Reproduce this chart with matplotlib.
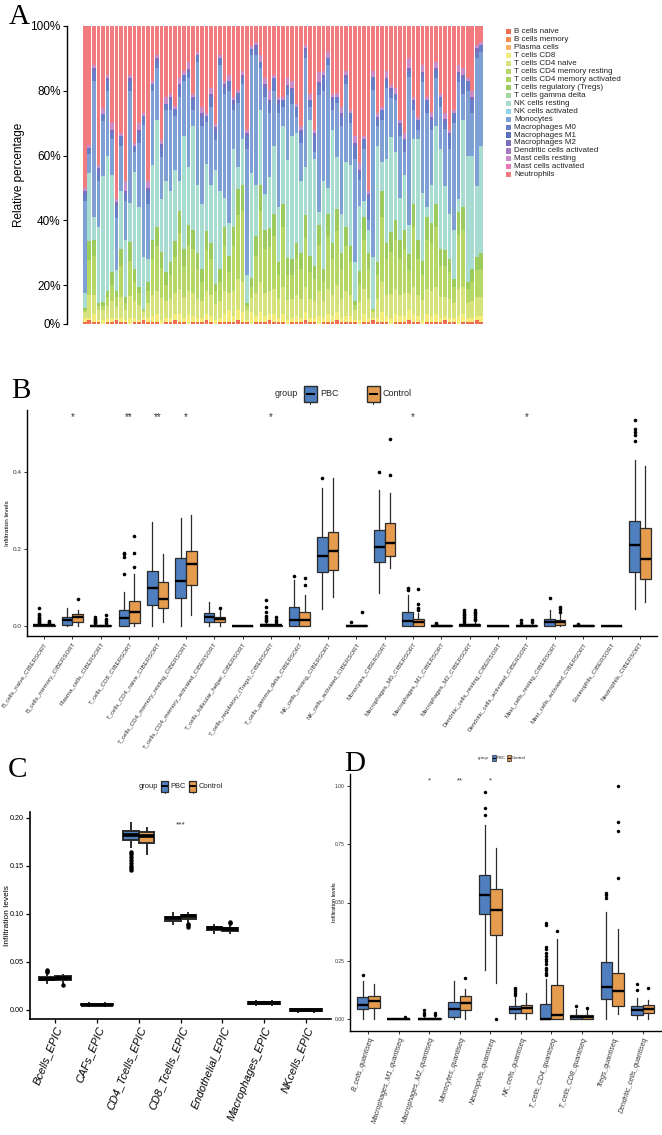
import numpy as np
import matplotlib
matplotlib.use("Agg")
from matplotlib import pyplot as plt
from matplotlib import font_manager
from matplotlib.patches import Rectangle

W, H = 662, 1135


def font_ok(name):
    try:
        font_manager.findfont(font_manager.FontProperties(family=name), fallback_to_default=False)
        return True
    except ValueError:
        return False


SANS = "Liberation Sans"
NARROW = "Liberation Sans Narrow" if font_ok("Liberation Sans Narrow") else SANS
SERIF = "Liberation Serif"
plt.rcParams["font.family"] = [SANS, "DejaVu Sans"]

# ---------------- panel A: CIBERSORT fractions per sample (percent) ----------------
cell_types = ["B cells naive", "B cells memory", "Plasma cells", "T cells CD8", "T cells CD4 naive",
              "T cells CD4 memory resting", "T cells CD4 memory activated", "T cells regulatory (Tregs)",
              "T cells gamma delta", "NK cells resting", "NK cells activated", "Monocytes",
              "Macrophages M0", "Macrophages M1", "Macrophages M2", "Dendritic cells activated",
              "Mast cells resting", "Mast cells activated", "Neutrophils"]
cell_colors = ["#EF6E50", "#F48C52", "#F9B466", "#F4EC78", "#D6E27C", "#B5D766", "#AAD25F", "#9CCC5E",
               "#A2D7A0", "#A8DCD1", "#8ED2EC", "#7EA0D4", "#687EC6", "#5C6EBE", "#7A70BE", "#A67EBF",
               "#C98CC8", "#E778B4", "#F27B80"]

b_naive = [1, 2, 1, 1, 0, 1, 1, 2, 1, 1, 0, 1, 1, 2, 1, 1, 1, 0, 1, 1, 2, 1, 1, 0, 1, 1, 1, 2, 1, 0,
           1, 1, 1, 1, 2, 1, 1, 0, 1, 1, 1, 2, 1, 1, 1, 0, 1, 1, 1, 2, 1, 1, 0, 1, 1, 1, 2, 1, 1, 1,
           1, 0, 1, 1, 2, 1, 1, 1, 0, 1, 1, 1, 2, 1, 1, 0, 1, 1, 1, 1, 2, 1, 1, 0, 1, 1, 1, 2, 1]
t_cd8 = [2, 1, 4, 1, 2, 2, 2, 1, 2, 1, 3, 2, 1, 1, 2, 3, 4, 2, 2, 2, 3, 4, 2, 5, 3, 2, 2, 3, 3, 2,
         2, 4, 6, 3, 5, 5, 1, 6, 3, 5, 3, 3, 4, 2, 4, 2, 2, 3, 2, 4, 2, 2, 4, 2, 4, 3, 4, 2, 3, 3,
         1, 2, 4, 2, 1, 2, 5, 3, 3, 4, 3, 3, 5, 4, 3, 2, 4, 3, 4, 2, 2, 2, 2, 4, 4, 2, 2, 2, 3]
t_cd4_naive = [3, 12, 10, 5, 5, 6, 9, 6, 11, 5, 11, 9, 8, 3, 8, 11, 12, 11, 9, 10, 11, 13, 11, 12, 12, 10, 9, 12, 11, 8,
               9, 12, 9, 13, 15, 15, 5, 7, 12, 15, 12, 12, 13, 10, 14, 10, 10, 11, 10, 13, 10, 9, 13, 9, 13, 11, 14, 10, 13, 11,
               5, 9, 13, 10, 3, 10, 15, 11, 12, 13, 11, 12, 9, 14, 11, 10, 13, 13, 14, 11, 10, 10, 8, 14, 14, 8, 9, 10, 10]
t_cd4_mem_rest = [1, 13, 14, 2, 2, 5, 8, 5, 12, 4, 13, 9, 6, 1, 6, 13, 15, 12, 8, 10, 13, 18, 12, 15, 15, 12, 9, 14, 13, 7,
                  9, 15, 8, 15, 20, 22, 2, 6, 13, 22, 15, 15, 17, 10, 19, 11, 10, 13, 12, 16, 11, 10, 15, 9, 17, 13, 17, 12, 15, 12,
                  3, 9, 16, 12, 1, 10, 20, 13, 15, 16, 13, 15, 9, 19, 13, 11, 16, 16, 19, 12, 12, 11, 8, 17, 18, 7, 9, 11, 11]
tregs = [1, 6, 5, 2, 2, 3, 4, 3, 5, 3, 6, 4, 3, 1, 4, 6, 6, 5, 4, 4, 5, 7, 5, 6, 6, 5, 4, 6, 5, 3,
         4, 6, 5, 6, 8, 8, 2, 3, 6, 8, 6, 6, 7, 4, 7, 5, 5, 5, 5, 7, 5, 4, 6, 4, 7, 5, 7, 5, 6, 5,
         2, 4, 7, 5, 1, 4, 8, 5, 6, 6, 6, 6, 5, 7, 6, 4, 7, 6, 7, 5, 5, 4, 3, 7, 7, 3, 4, 4, 5]
nk_rest = [8, 21, 7, 27, 42, 43, 30, 8, 18, 20, 12, 30, 25, 21, 7, 23, 33, 16, 28, 22, 22, 9, 35, 18, 32, 21, 20, 21, 18, 35,
           24, 9, 10, 24, 7, 14, 12, 32, 16, 23, 11, 16, 21, 17, 24, 30, 38, 34, 22, 15, 42, 33, 4, 27, 8, 35, 16, 12, 20, 25,
           15, 20, 5, 7, 21, 36, 9, 26, 29, 21, 13, 17, 9, 20, 31, 21, 3, 12, 24, 31, 20, 14, 15, 4, 27, 39, 35, 22, 33]
monocytes = [30, 6, 42, 14, 17, 20, 11, 16, 14, 12, 34, 6, 20, 41, 17, 23, 16, 13, 22, 25, 17, 26, 17, 27, 5, 38, 24, 13, 24, 9,
             39, 32, 41, 12, 20, 17, 39, 36, 40, 13, 30, 20, 17, 29, 6, 20, 10, 5, 12, 34, 4, 2, 36, 28, 38, 6, 17, 27, 24, 13,
             32, 8, 16, 3, 52, 6, 13, 22, 12, 16, 19, 7, 46, 9, 3, 34, 29, 17, 15, 13, 18, 20, 33, 36, 8, 20, 13, 40, 29]
macro_m0 = [2, 2, 3, 3, 2, 3, 2, 4, 3, 2, 3, 2, 3, 3, 4, 2, 2, 3, 2, 3, 2, 3, 2, 2, 3, 2, 3, 2, 3, 3,
            2, 2, 3, 2, 3, 2, 4, 2, 2, 2, 3, 3, 4, 3, 2, 2, 4, 3, 3, 2, 2, 5, 3, 4, 2, 3, 2, 3, 2, 3,
            4, 2, 3, 7, 4, 2, 3, 2, 2, 2, 3, 4, 2, 2, 3, 2, 4, 3, 2, 3, 2, 4, 3, 2, 5, 3, 4, 2, 2]
macro_m2 = [1, 0, 1, 1, 0, 1, 1, 1, 0, 1, 1, 0, 1, 0, 1, 0, 1, 1, 0, 1, 0, 1, 0, 1, 1, 0, 1, 0, 1, 1,
            0, 1, 0, 1, 0, 1, 1, 0, 1, 0, 1, 1, 0, 1, 0, 1, 1, 0, 1, 1, 0, 1, 1, 1, 0, 1, 0, 1, 1, 0,
            1, 1, 0, 1, 0, 1, 0, 1, 1, 0, 1, 0, 1, 1, 0, 1, 0, 1, 1, 0, 1, 1, 0, 1, 1, 0, 1, 1, 0]
mast_rest = [1, 1, 1, 1, 2, 1, 2, 1, 1, 3, 1, 1, 2, 1, 2, 1, 1, 1, 2, 1, 1, 2, 1, 2, 1, 1, 2, 1, 2, 1,
             1, 1, 2, 1, 1, 1, 1, 1, 1, 2, 2, 3, 1, 1, 1, 2, 2, 1, 1, 1, 2, 1, 3, 1, 2, 1, 1, 2, 1, 1,
             2, 2, 1, 1, 2, 1, 1, 2, 1, 2, 1, 2, 3, 1, 1, 2, 1, 1, 2, 1, 2, 1, 1, 2, 2, 1, 2, 1, 1]
neutrophils = [50, 37, 12, 43, 25, 15, 30, 54, 33, 48, 15, 36, 30, 27, 48, 17, 9, 35, 22, 21, 25, 16, 14, 11, 21, 8, 25, 27, 19, 30,
               9, 17, 15, 22, 20, 14, 32, 6, 5, 9, 16, 20, 15, 22, 22, 16, 17, 24, 31, 6, 21, 32, 14, 14, 8, 21, 21, 25, 14, 26,
               34, 42, 34, 51, 14, 27, 25, 14, 18, 19, 29, 33, 10, 22, 28, 12, 22, 27, 11, 21, 27, 32, 26, 12, 13, 16, 20, 6, 5]

stack = [("B cells naive", b_naive), ("T cells CD8", t_cd8), ("T cells CD4 naive", t_cd4_naive),
         ("T cells CD4 memory resting", t_cd4_mem_rest), ("T cells regulatory (Tregs)", tregs),
         ("NK cells resting", nk_rest), ("Monocytes", monocytes), ("Macrophages M0", macro_m0),
         ("Macrophages M2", macro_m2), ("Mast cells resting", mast_rest), ("Neutrophils", neutrophils)]

# ---------------- panel B: CIBERSORT box plots ----------------
cib_names = ["B_cells_naive", "B_cells_memory", "Plasma_cells", "T_cells_CD8", "T_cells_CD4_naive",
             "T_cells_CD4_memory_resting", "T_cells_CD4_memory_activated", "T_cells_follicular_helper",
             "T_cells_regulatory_(Tregs)", "T_cells_gamma_delta", "NK_cells_resting", "NK_cells_activated",
             "Monocytes", "Macrophages_M0", "Macrophages_M1", "Macrophages_M2", "Dendritic_cells_resting",
             "Dendritic_cells_activated", "Mast_cells_resting", "Mast_cells_activated", "Eosinophils", "Neutrophils"]
cib_labels = [n + "_CIBERSORT" for n in cib_names]
cib_stars = ["", "*", "", "**", "**", "*", "", "", "*", "", "", "", "", "*", "", "", "", "*", "", "", "", ""]

cib_pbc_q1 = [0, 0.001, 0, 0, 0.055, 0.072, 0.010, 0, 0, 0, 0.140, 0, 0.165, 0, 0, 0, 0, 0, 0, 0, 0, 0.139]
cib_pbc_med = [0.001, 0.014, 0.0005, 0.020, 0.099, 0.117, 0.023, 0, 0.001, 0.016, 0.181, 0, 0.206, 0.013, 0, 0.001, 0, 0, 0.011, 0, 0, 0.210]
cib_pbc_q3 = [0.002, 0.024, 0.002, 0.040, 0.143, 0.176, 0.033, 0, 0.004, 0.048, 0.232, 0.001, 0.249, 0.035, 0.001, 0.004, 0, 0.002, 0.017, 0.001, 0, 0.273]
cib_pbc_lo = [0, 0, 0, 0, 0, 0, 0, 0, 0, 0, 0.043, 0, 0.085, 0, 0, 0, 0, 0, 0, 0, 0, 0.044]
cib_pbc_hi = [0.004, 0.046, 0.004, 0.087, 0.271, 0.281, 0.063, 0, 0.009, 0.119, 0.359, 0.002, 0.352, 0.080, 0.002, 0.008, 0, 0.004, 0.041, 0.002, 0, 0.430]
cib_pbc_out = [[0.006, 0.009, 0.012, 0.015, 0.018, 0.021, 0.024, 0.027, 0.030, 0.046], [],
               [0.006, 0.009, 0.012, 0.015, 0.018, 0.022], [0.134, 0.180, 0.187, 0.190], [], [], [], [],
               [0.012, 0.016, 0.020, 0.025, 0.035, 0.050, 0.067], [0.130], [0.385], [0.010], [0.400],
               [0.092, 0.098], [0.005, 0.008], [0.011, 0.015, 0.019, 0.023, 0.027, 0.031, 0.036, 0.041], [],
               [0.008, 0.014], [0.073], [0.005], [], [0.480, 0.495, 0.504, 0.512, 0.534]]

cib_ctl_q1 = [0, 0.010, 0, 0.007, 0.045, 0.106, 0.010, 0, 0, 0, 0.145, 0, 0.182, 0, 0, 0, 0, 0, 0.003, 0, 0, 0.121]
cib_ctl_med = [0.001, 0.022, 0.0005, 0.035, 0.069, 0.161, 0.017, 0, 0.001, 0.016, 0.194, 0, 0.216, 0.010, 0, 0.001, 0, 0, 0.010, 0, 0, 0.174]
cib_ctl_q3 = [0.002, 0.031, 0.002, 0.064, 0.115, 0.194, 0.024, 0, 0.003, 0.036, 0.244, 0.001, 0.266, 0.017, 0.001, 0.005, 0, 0.002, 0.016, 0.001, 0, 0.253]
cib_ctl_lo = [0, 0, 0, 0, 0.010, 0.029, 0, 0, 0, 0, 0.076, 0, 0.150, 0, 0, 0, 0, 0, 0, 0, 0, 0.063]
cib_ctl_hi = [0.004, 0.040, 0.004, 0.134, 0.186, 0.289, 0.040, 0, 0.006, 0.079, 0.384, 0.002, 0.344, 0.033, 0.002, 0.010, 0, 0.004, 0.030, 0.002, 0, 0.415]
cib_ctl_out = [[0.006, 0.009, 0.012], [0.069], [0.007, 0.012, 0.018, 0.028], [0.152, 0.190, 0.234], [], [],
               [0.046], [], [0.010, 0.015, 0.022], [0.105, 0.125], [], [0.035], [0.393, 0.485],
               [0.040, 0.046, 0.056, 0.095], [], [0.014, 0.018, 0.022, 0.027, 0.032, 0.037, 0.041], [],
               [0.009, 0.014], [0.037, 0.043, 0.050], [], [], []]

# ---------------- panel C: EPIC ----------------
epic_labels = ["Bcells_EPIC", "CAFs_EPIC", "CD4_Tcells_EPIC", "CD8_Tcells_EPIC", "Endothelial_EPIC",
               "Macrophages_EPIC", "NKcells_EPIC"]
epic_stars = ["", "", "", "***", "", "", ""]
epic_pbc_q1 = [0.0310, 0.0049, 0.1775, 0.0930, 0.0832, 0.0062, -0.0010]
epic_pbc_med = [0.0326, 0.0057, 0.1823, 0.0953, 0.0850, 0.0072, 0.0000]
epic_pbc_q3 = [0.0347, 0.0066, 0.1865, 0.0970, 0.0867, 0.0083, 0.0010]
epic_pbc_lo = [0.0280, 0.0042, 0.1700, 0.0894, 0.0804, 0.0055, -0.0020]
epic_pbc_hi = [0.0390, 0.0072, 0.1950, 0.1010, 0.0890, 0.0090, 0.0015]
epic_pbc_out = [[0.040, 0.041, 0.042], [], [0.146, 0.148, 0.150, 0.153, 0.156, 0.159, 0.162, 0.165], [], [], [], []]
epic_ctl_q1 = [0.0312, 0.0049, 0.1744, 0.0950, 0.0818, 0.0064, -0.0010]
epic_ctl_med = [0.0330, 0.0057, 0.1810, 0.0974, 0.0842, 0.0073, 0.0000]
epic_ctl_q3 = [0.0352, 0.0066, 0.1854, 0.0988, 0.0856, 0.0084, 0.0010]
epic_ctl_lo = [0.0270, 0.0042, 0.1620, 0.0920, 0.0800, 0.0056, -0.0018]
epic_ctl_hi = [0.0360, 0.0072, 0.1900, 0.1010, 0.0880, 0.0092, 0.0015]
epic_ctl_out = [[0.0265], [], [], [0.0868, 0.0885, 0.0900], [0.0905, 0.0915], [], []]

# ---------------- panel D: quanTIseq ----------------
quan_labels = ["B_cells_quantiseq", "Macrophages_M1_quantiseq", "Macrophages_M2_quantiseq",
               "Monocytes_quantiseq", "Neutrophils_quantiseq", "NK_cells_quantiseq", "T_cells_CD4_quantiseq",
               "T_cells_CD8_quantiseq", "Tregs_quantiseq", "Dendritic_cells_quantiseq"]
quan_stars = ["", "", "*", "**", "*", "", "", "", "", ""]
quan_pbc_q1 = [0.043, 0, 0, 0.012, 0.449, 0.029, 0, 0, 0.087, 0.019]
quan_pbc_med = [0.062, 0, 0.001, 0.046, 0.531, 0.043, 0.002, 0.009, 0.137, 0.040]
quan_pbc_q3 = [0.095, 0.002, 0.004, 0.074, 0.618, 0.055, 0.065, 0.020, 0.247, 0.055]
quan_pbc_lo = [0, 0, 0, 0, 0.211, 0, 0, 0, 0, 0]
quan_pbc_hi = [0.166, 0.004, 0.014, 0.163, 0.831, 0.095, 0.173, 0.045, 0.459, 0.091]
quan_pbc_out = [[0.188], [], [0.018, 0.026, 0.040], [], [0.874, 0.906, 0.971],
                [0.105, 0.113, 0.120, 0.128, 0.135],
                [0.19, 0.20, 0.21, 0.22, 0.235, 0.25, 0.26, 0.27, 0.285, 0.30, 0.31, 0.405, 0.412],
                [0.055], [0.519, 0.530, 0.542], [0.127, 0.153]]
quan_ctl_q1 = [0.050, 0, 0, 0.040, 0.361, 0.026, 0, 0, 0.055, 0.026]
quan_ctl_med = [0.079, 0, 0.001, 0.069, 0.470, 0.048, 0.017, 0.009, 0.123, 0.043]
quan_ctl_q3 = [0.101, 0.003, 0.004, 0.098, 0.556, 0.062, 0.148, 0.020, 0.199, 0.062]
quan_ctl_lo = [0, 0, 0, 0, 0.156, 0, 0, 0, 0.023, 0]
quan_ctl_hi = [0.152, 0.006, 0.012, 0.131, 0.733, 0.113, 0.343, 0.040, 0.387, 0.084]
quan_ctl_out = [[], [0.008], [0.018, 0.026], [0.177], [0.0], [], [0.380], [0.048],
                [0.603, 0.805, 0.846, 1.0], [0.134]]

PBC_COLOR = "#4F7FBF"
CTL_COLOR = "#E59C4E"
EDGE = "#2B2B2B"


def add_ax(left, top, right, bottom):
    return fig.add_axes([left / W, 1 - bottom / H, (right - left) / W, (bottom - top) / H])


def make_stats(q1, med, q3, lo, hi, out):
    return [dict(q1=a, med=b, q3=c, whislo=d, whishi=e, fliers=f) for a, b, c, d, e, f in zip(q1, med, q3, lo, hi, out)]


def draw_boxes(ax, pbc, ctl, lw, msize, width=0.375):
    pos = np.arange(1, len(pbc) + 1)
    for stats, off, color in ((pbc, -width / 2, PBC_COLOR), (ctl, width / 2, CTL_COLOR)):
        ax.bxp(stats, positions=pos + off, widths=width, patch_artist=True, showcaps=False, manage_ticks=False,
               boxprops=dict(facecolor=color, edgecolor=EDGE, linewidth=lw),
               medianprops=dict(color="black", linewidth=lw * 1.9, solid_capstyle="butt"),
               whiskerprops=dict(color=EDGE, linewidth=lw),
               flierprops=dict(marker="o", markerfacecolor="black", markeredgecolor="black",
                               markersize=msize, markeredgewidth=0, linestyle="none"))


def style_ax(ax, lw=1.0):
    for s in ("top", "right"):
        ax.spines[s].set_visible(False)
    for s in ("left", "bottom"):
        ax.spines[s].set_linewidth(lw)
        ax.spines[s].set_color("black")


def legend_group(ov, gx, yc, keys_x, size, kw, kh, font, lw):
    ov.text(gx, yc, "group", fontsize=size, family=font, ha="left", va="center", color="#222222")
    for kx, label, color in zip(keys_x, ("PBC", "Control"), (PBC_COLOR, CTL_COLOR)):
        ov.add_patch(Rectangle((kx, yc - kh / 2), kw, kh, facecolor=color, edgecolor=EDGE, linewidth=lw))
        ov.plot([kx + kw * 0.2, kx + kw * 0.8], [yc, yc], color="black", linewidth=lw * 1.5)
        ov.plot([kx + kw / 2, kx + kw / 2], [yc + kh / 2, yc + kh / 2 + kh * 0.15], color=EDGE, linewidth=lw * 0.7)
        ov.text(kx + kw + kw * 0.2 + 0.8, yc, label, fontsize=size, family=font,
                ha="left", va="center", color="#222222")


fig = plt.figure(figsize=(W / 100, H / 100), dpi=100)
ov = fig.add_axes([0, 0, 1, 1], zorder=10)
ov.set_xlim(0, W)
ov.set_ylim(H, 0)
ov.axis("off")

# ---------------- A ----------------
axA = add_ax(67, 26, 485, 324)
n = len(neutrophils)
x = np.arange(n)
total = np.sum([np.array(v, dtype=float) for _, v in stack], axis=0)
bottom = np.zeros(n)
for name, vals in stack:
    h = np.array(vals, dtype=float) / total * 100
    axA.bar(x, h, bottom=bottom, width=0.8, color=cell_colors[cell_types.index(name)], linewidth=0)
    bottom += h


def fwd(v):
    v = np.asarray(v, dtype=float)
    return np.where(v <= 20, v * 1.95, 39 + (v - 20) * 3.2375)


def inv(p):
    p = np.asarray(p, dtype=float)
    return np.where(p <= 39, p / 1.95, 20 + (p - 39) / 3.2375)


axA.set_yscale("function", functions=(fwd, inv))
axA.set_ylim(0, 100)
axA.set_xlim(-3.95, 88.84)
for s in ("top", "right", "bottom"):
    axA.spines[s].set_visible(False)
axA.spines["left"].set_linewidth(1.0)
axA.set_xticks([])
axA.set_yticks([0, 20, 40, 60, 80, 100])
axA.set_yticklabels(["0%", "20%", "40%", "60%", "80%", "100%"])
axA.yaxis.set_minor_locator(matplotlib.ticker.NullLocator())
axA.tick_params(axis="y", labelsize=8.5, length=3, width=0.8, pad=1.5)
axA.set_ylabel("Relative percentage", fontsize=8.5)
axA.yaxis.set_label_coords(-0.10, 0.5)

for i, (name, color) in enumerate(zip(cell_types, cell_colors)):
    yc = 31.7 + i * 7.95
    ov.add_patch(Rectangle((506, yc - 2.6), 5.2, 5.2, facecolor=color, edgecolor="none"))
    ov.text(514, yc, name, fontsize=5.8, ha="left", va="center", color="#222222")

# ---------------- B ----------------
axB = add_ax(27, 410, 657, 636)
draw_boxes(axB, make_stats(cib_pbc_q1, cib_pbc_med, cib_pbc_q3, cib_pbc_lo, cib_pbc_hi, cib_pbc_out),
           make_stats(cib_ctl_q1, cib_ctl_med, cib_ctl_q3, cib_ctl_lo, cib_ctl_hi, cib_ctl_out), lw=0.9, msize=2.6)
axB.set_xlim(0.4, 22.6)
axB.set_ylim(-0.0267, 0.561)
style_ax(axB)
axB.set_xticks(np.arange(1, 23))
axB.set_xticklabels(cib_labels, rotation=56, ha="right", va="top", rotation_mode="anchor", fontsize=4.4)
axB.set_yticks([0.0, 0.2, 0.4])
axB.set_yticklabels(["0.0", "0.2", "0.4"])
axB.tick_params(axis="both", length=2.5, width=0.7, pad=1.5, colors="#333333")
axB.tick_params(axis="y", labelsize=4.6)
axB.set_ylabel("Infiltration levels", fontsize=4.6)
axB.yaxis.set_label_coords(-0.027, 0.5)
for i, s in enumerate(cib_stars):
    if s:
        axB.text(i + 1, 0.543, s, ha="center", va="center", fontsize=7, color="#333333")
legend_group(ov, 275, 394, (304, 367), 6.5, 12.5, 16, SANS, 1.0)

# ---------------- C ----------------
axC = add_ax(30, 812, 331, 1019)
draw_boxes(axC, make_stats(epic_pbc_q1, epic_pbc_med, epic_pbc_q3, epic_pbc_lo, epic_pbc_hi, epic_pbc_out),
           make_stats(epic_ctl_q1, epic_ctl_med, epic_ctl_q3, epic_ctl_lo, epic_ctl_hi, epic_ctl_out), lw=1.4, msize=3.2)
axC.set_xlim(0.4, 7.6)
axC.set_ylim(-0.0094, 0.2062)
style_ax(axC, 1.2)
axC.set_xticks(np.arange(1, 8))
axC.set_xticklabels(epic_labels, rotation=68, ha="right", va="top", rotation_mode="anchor",
                    fontsize=8, style="italic")
axC.set_yticks([0, 0.05, 0.10, 0.15, 0.20])
axC.set_yticklabels(["0.00", "0.05", "0.10", "0.15", "0.20"], family=NARROW)
axC.tick_params(axis="both", length=3, width=0.9, pad=1.5, colors="black")
axC.tick_params(axis="y", labelsize=5.2)
axC.set_ylabel("Infiltration levels", fontsize=6)
axC.yaxis.set_label_coords(-0.062, 0.5)
for i, s in enumerate(epic_stars):
    if s:
        axC.text(i + 1, 0.193, s, ha="center", va="center", fontsize=6, color="#333333")
legend_group(ov, 139, 786, (161, 189), 5.4, 7.0, 11, NARROW, 0.9)

# ---------------- D ----------------
axD = add_ax(350, 774, 661, 1031)
draw_boxes(axD, make_stats(quan_pbc_q1, quan_pbc_med, quan_pbc_q3, quan_pbc_lo, quan_pbc_hi, quan_pbc_out),
           make_stats(quan_ctl_q1, quan_ctl_med, quan_ctl_q3, quan_ctl_lo, quan_ctl_hi, quan_ctl_out), lw=0.9, msize=2.5)
axD.set_xlim(0.4, 10.6)
axD.set_ylim(-0.05, 1.05)
style_ax(axD)
axD.set_xticks(np.arange(1, 11))
axD.set_xticklabels(quan_labels, rotation=72, ha="right", va="top", rotation_mode="anchor",
                    fontsize=5, style="italic")
axD.set_yticks([0, 0.25, 0.5, 0.75, 1.0])
axD.set_yticklabels(["0.00", "0.25", "0.50", "0.75", "1.00"], family=NARROW)
axD.tick_params(axis="both", length=2.5, width=0.7, pad=1.5, colors="#333333")
axD.tick_params(axis="y", labelsize=3.6)
axD.set_ylabel("Infiltration levels", fontsize=4)
axD.yaxis.set_label_coords(-0.043, 0.5)
for i, s in enumerate(quan_stars):
    if s:
        axD.text(i + 1, 1.02, s, ha="center", va="center", fontsize=5.5, color="#333333")
legend_group(ov, 478, 758, (492, 507), 3.2, 3.5, 6, NARROW, 0.5)

# panel letters
for letter, px, py in (("A", 9, 4), ("B", 11, 378), ("C", 8, 757), ("D", 344, 751)):
    ov.text(px, py, letter, fontsize=21, family=SERIF, ha="left", va="top", color="black")

fig.savefig("out.png", dpi=100)
